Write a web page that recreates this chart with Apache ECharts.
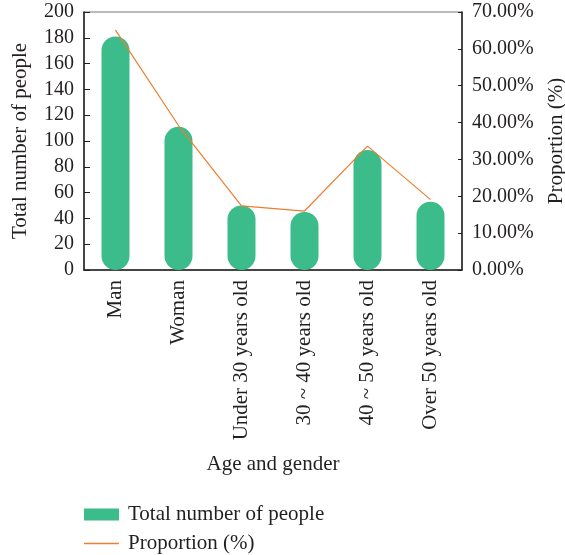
<!DOCTYPE html>
<html>
<head>
<meta charset="utf-8">
<script src="https://cdn.jsdelivr.net/npm/echarts@6/dist/echarts.min.js"></script>
<style>
  html, body { margin: 0; padding: 0; background: #fff; }
  #chart { width: 565px; height: 555px; }
</style>
</head>
<body>
<div id="chart"></div>
<script>
// Survey respondents by age and gender
const categories = ['Man', 'Woman', 'Under 30 years old', '30 ~ 40 years old', '40 ~ 50 years old', 'Over 50 years old'];
const totalPeople = [181, 111, 50, 45, 93, 53];
const proportion = [65.1, 39.2, 17.4, 16.0, 33.6, 19.1]; // percent

const leftTicks = { min: 0, max: 200, interval: 20 };
const rightTicks = { min: 0, max: 70, interval: 10 };

const FONT = '"Liberation Serif", "Times New Roman", serif';
const TEXT = '#231f20';
const GREEN = '#3bbc8a';
const ORANGE = '#ee7d30';
const NUM_SIZE = 20;
const WORD_SIZE = 21;

const chart = echarts.init(document.getElementById('chart'), null, { renderer: 'canvas' });

const legendText = { fontFamily: FONT, fontSize: WORD_SIZE, color: TEXT, padding: [0, 0, 0, 4] };

chart.setOption({
  animation: false,
  textStyle: { fontFamily: FONT, color: TEXT },
  grid: {
    left: 84, right: 103, top: 12, bottom: 285,
    outerBoundsMode: 'none',
    containLabel: false,
    show: true, borderColor: '#777', borderWidth: 1, backgroundColor: 'transparent'
  },
  legend: [
    {
      left: 84, top: 504, padding: 0,
      itemWidth: 35, itemHeight: 12,
      textStyle: legendText,
      data: [{ name: 'Total number of people', icon: 'rect' }]
    },
    {
      left: 84, top: 533, padding: 0,
      itemWidth: 35, itemHeight: 1.5,
      textStyle: legendText,
      data: [{ name: 'Proportion (%)', icon: 'rect' }]
    }
  ],
  xAxis: {
    type: 'category',
    data: categories,
    name: 'Age and gender',
    nameLocation: 'middle',
    nameGap: 184,
    nameTextStyle: { fontFamily: FONT, fontSize: WORD_SIZE, color: TEXT },
    axisLine: { lineStyle: { color: '#231f20', width: 1.5 } },
    axisTick: { inside: true, length: 5, lineStyle: { color: '#231f20' } },
    axisLabel: { rotate: 90, margin: 10, fontFamily: FONT, fontSize: WORD_SIZE, color: TEXT },
    splitLine: { show: false }
  },
  yAxis: [
    {
      type: 'value',
      min: leftTicks.min, max: leftTicks.max, interval: leftTicks.interval,
      name: 'Total number of people',
      nameLocation: 'middle',
      nameGap: 53,
      nameTextStyle: { fontFamily: FONT, fontSize: WORD_SIZE, color: TEXT },
      axisLine: { show: true, lineStyle: { color: '#231f20', width: 1.5 } },
      axisTick: { show: true, inside: true, length: 6, lineStyle: { color: '#231f20' } },
      axisLabel: { margin: 10, fontFamily: FONT, fontSize: NUM_SIZE, color: TEXT },
      splitLine: { show: false }
    },
    {
      type: 'value',
      position: 'right',
      min: rightTicks.min, max: rightTicks.max, interval: rightTicks.interval,
      name: 'Proportion (%)',
      nameLocation: 'middle',
      nameGap: 84,
      nameTextStyle: { fontFamily: FONT, fontSize: WORD_SIZE, color: TEXT },
      axisLine: { show: true, lineStyle: { color: '#231f20', width: 1.5 } },
      axisTick: { show: true, inside: true, length: 4, lineStyle: { color: '#231f20' } },
      axisLabel: {
        margin: 10, fontFamily: FONT, fontSize: NUM_SIZE, color: TEXT,
        formatter: v => v.toFixed(2) + '%'
      },
      splitLine: { show: false }
    }
  ],
  series: [
    {
      name: 'Total number of people',
      type: 'bar',
      yAxisIndex: 0,
      data: totalPeople,
      barWidth: 28,
      itemStyle: { color: GREEN, borderRadius: 14 }
    },
    {
      name: 'Proportion (%)',
      type: 'line',
      yAxisIndex: 1,
      data: proportion,
      symbol: 'none',
      lineStyle: { color: ORANGE, width: 1.2 },
      itemStyle: { color: ORANGE }
    }
  ]
});
</script>
</body>
</html>
